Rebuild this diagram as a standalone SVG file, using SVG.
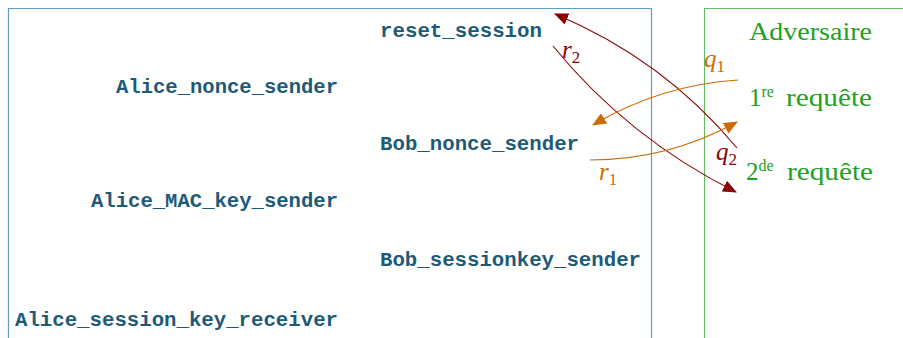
<svg xmlns="http://www.w3.org/2000/svg" width="903" height="338" viewBox="0 0 903 338">
<style>
.tt{font-family:"Liberation Mono","DejaVu Sans Mono",monospace;font-size:20px;font-weight:bold;fill:#1d5a78}
.gr{font-family:"Liberation Serif",serif;font-size:25px;fill:#22a022}
.sup{font-size:16px}
.lab{font-family:"Liberation Serif",serif;font-size:25px;font-style:italic}
.sub{font-size:17px;font-style:normal}
.red{stroke:#8b0000;fill:none;stroke-width:1.1}
.org{stroke:#d06a00;fill:none;stroke-width:1.1}
</style>
<defs>
<marker id="ahR" markerWidth="14" markerHeight="12" refX="13" refY="6" orient="auto" markerUnits="userSpaceOnUse"><path d="M0,0 L14,6 L0,12 z" fill="#8b0000"/></marker>
<marker id="ahO" markerWidth="14" markerHeight="12" refX="13" refY="6" orient="auto" markerUnits="userSpaceOnUse"><path d="M0,0 L14,6 L0,12 z" fill="#d06a00"/></marker>
</defs>
<g id="frame-protocol"><path d="M8.5,338 V8.5 H651.5 V338" fill="none" stroke="#5a9ec0" stroke-width="1.2"/></g>
<g id="frame-adversaire"><path d="M704.5,338 V8.5 H903" fill="none" stroke="#66bb66" stroke-width="1.2"/></g>
<g id="reset_session"><text class="tt" x="380" y="37" textLength="162" lengthAdjust="spacingAndGlyphs">reset_session</text></g>
<g id="Alice_nonce_sender"><text class="tt" x="116" y="92.5" textLength="222" lengthAdjust="spacingAndGlyphs">Alice_nonce_sender</text></g>
<g id="Bob_nonce_sender"><text class="tt" x="380" y="150" textLength="199" lengthAdjust="spacingAndGlyphs">Bob_nonce_sender</text></g>
<g id="Alice_MAC_key_sender"><text class="tt" x="91" y="207" textLength="247" lengthAdjust="spacingAndGlyphs">Alice_MAC_key_sender</text></g>
<g id="Bob_sessionkey_sender"><text class="tt" x="380" y="266" textLength="261" lengthAdjust="spacingAndGlyphs">Bob_sessionkey_sender</text></g>
<g id="Alice_session_key_receiver"><text class="tt" x="15" y="326" textLength="323" lengthAdjust="spacingAndGlyphs">Alice_session_key_receiver</text></g>
<g id="Adversaire"><text class="gr" x="749" y="40" textLength="123" lengthAdjust="spacingAndGlyphs">Adversaire</text></g>
<g id="requete1"><text class="gr" x="749" y="106">1<tspan class="sup" dy="-9">re</tspan><tspan x="786" dy="9" textLength="86" lengthAdjust="spacingAndGlyphs">requête</tspan></text></g>
<g id="requete2"><text class="gr" x="746" y="180">2<tspan class="sup" dy="-9">de</tspan><tspan x="787" dy="9" textLength="86" lengthAdjust="spacingAndGlyphs">requête</tspan></text></g>
<g id="connectors">
<path class="red" d="M737,148 Q663,59 555,14" marker-end="url(#ahR)"/>
<path class="red" d="M553,46 Q628,138 736,192" marker-end="url(#ahR)"/>
<path class="org" d="M738,80 Q660,85 593,125" marker-end="url(#ahO)"/>
<path class="org" d="M590,160 Q668,160 737,122" marker-end="url(#ahO)"/>
<text class="lab" x="562" y="58" fill="#8b0000">r<tspan class="sub" dy="5">2</tspan></text>
<text class="lab" x="704" y="67" fill="#d06a00">q<tspan class="sub" dy="5">1</tspan></text>
<text class="lab" x="716" y="160" fill="#8b0000">q<tspan class="sub" dy="5">2</tspan></text>
<text class="lab" x="599" y="180" fill="#d06a00">r<tspan class="sub" dy="5">1</tspan></text>
</g>
</svg>
